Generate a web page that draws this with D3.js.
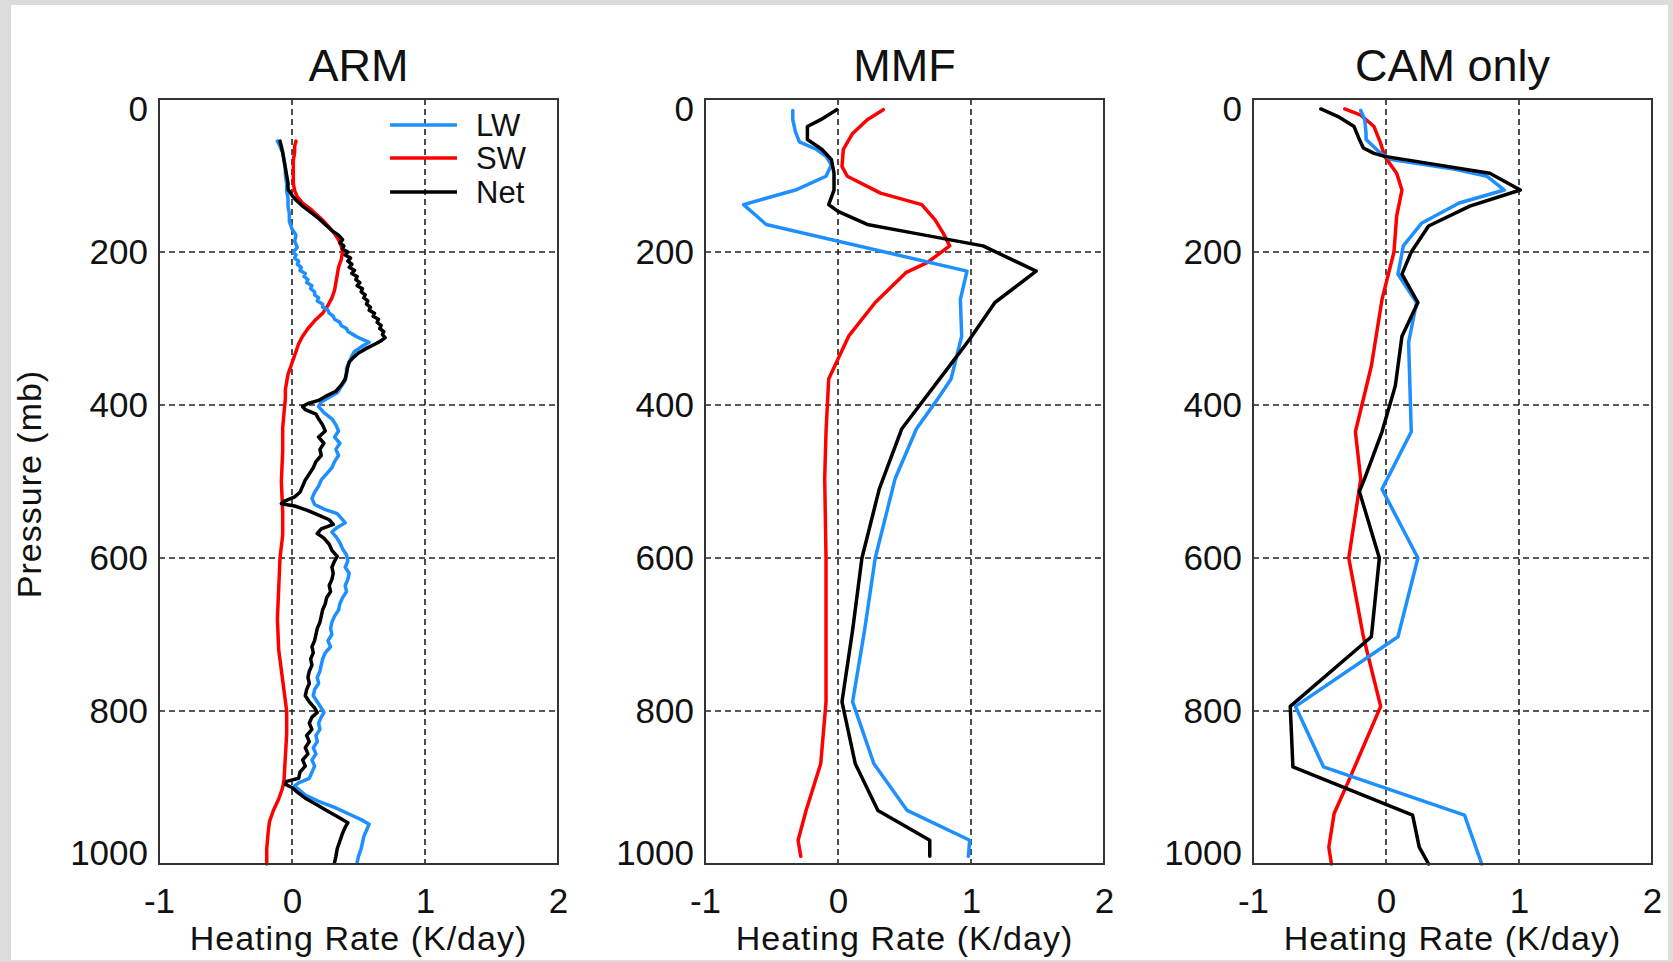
<!DOCTYPE html>
<html>
<head>
<meta charset="utf-8">
<script src="https://cdn.jsdelivr.net/npm/d3@7"></script>
<style>
  html, body { margin: 0; padding: 0; background: #dcdcdc; }
  svg { display: block; }
  text { font-family: "Liberation Sans", Arial, Helvetica, sans-serif; fill: #111; }
</style>
</head>
<body>
<svg id="chart" width="1673" height="962"></svg>
<script>
// ---------------- DATA ----------------
const panelTitles = ["ARM", "MMF", "CAM only"];
const seriesNames = ["LW", "SW", "Net"];
const xTickValues = [-1, 0, 1, 2];
const yTickValues = [0, 200, 400, 600, 800, 1000];
const xGridValues = [0, 1];
const yGridValues = [200, 400, 600, 800];

// ARM (observations)
const armLwP = [55,62,70,80,90,100,110,120,130,140,150,160,170,178,186,194,200,204,208,212,216,220,224,228,232,236,240,244,248,252,256,260,264,268,272,276,280,284,288,292,296,300,304,308,312,318,324,330,336,344,352,360,368,376,384,390,396,402,410,418,426,434,442,450,458,466,474,482,490,498,506,514,522,530,536,542,548,554,560,566,572,580,588,596,604,612,620,628,636,644,652,660,668,676,684,692,700,708,716,724,732,740,748,756,764,772,780,788,796,802,808,816,824,832,840,848,856,864,872,880,888,894,898,904,910,918,926,934,942,948,956,964,972,980,990,998];
const armLw  = [-0.11,-0.09,-0.07,-0.06,-0.05,-0.05,-0.04,-0.04,-0.03,-0.03,-0.02,-0.02,0.00,0.03,0.02,0.04,0.01,0.03,0.02,0.05,0.04,0.07,0.06,0.10,0.09,0.12,0.11,0.15,0.14,0.17,0.17,0.20,0.19,0.23,0.23,0.27,0.28,0.31,0.32,0.36,0.37,0.41,0.42,0.46,0.50,0.58,0.52,0.47,0.45,0.43,0.41,0.41,0.40,0.37,0.34,0.28,0.22,0.20,0.24,0.30,0.33,0.35,0.32,0.36,0.33,0.35,0.32,0.30,0.26,0.22,0.20,0.17,0.15,0.17,0.24,0.34,0.37,0.40,0.34,0.30,0.33,0.36,0.38,0.41,0.42,0.40,0.43,0.42,0.40,0.41,0.38,0.36,0.35,0.32,0.30,0.29,0.30,0.27,0.29,0.25,0.23,0.22,0.21,0.19,0.20,0.17,0.16,0.19,0.22,0.24,0.22,0.20,0.21,0.18,0.19,0.16,0.18,0.15,0.17,0.15,0.13,0.05,0.02,0.06,0.10,0.20,0.32,0.42,0.52,0.58,0.56,0.54,0.53,0.52,0.50,0.49];

const armSwP = [55,62,70,80,90,100,110,120,128,136,144,152,160,168,176,184,192,200,210,220,230,240,250,260,270,280,290,300,310,320,330,340,350,360,370,380,392,410,430,460,500,540,570,600,640,680,720,760,800,830,860,890,900,915,930,945,960,980,1000];
const armSw  = [0.03,0.02,0.02,0.01,0.01,0.01,0.01,0.02,0.04,0.08,0.14,0.19,0.24,0.28,0.32,0.35,0.37,0.38,0.37,0.35,0.34,0.33,0.32,0.30,0.27,0.23,0.17,0.12,0.08,0.05,0.03,0.01,-0.01,-0.03,-0.04,-0.05,-0.05,-0.06,-0.07,-0.07,-0.08,-0.07,-0.07,-0.09,-0.10,-0.11,-0.10,-0.07,-0.04,-0.04,-0.05,-0.06,-0.07,-0.10,-0.14,-0.17,-0.18,-0.19,-0.19];

const armNetP = [55,62,70,80,90,100,110,118,126,132,140,148,156,164,172,178,184,188,192,196,200,204,208,212,216,220,224,228,232,236,240,244,248,252,256,260,264,268,272,276,280,284,288,292,296,300,304,308,312,316,320,326,332,338,344,350,358,366,374,382,388,394,398,402,406,412,418,426,434,442,450,458,466,474,482,490,498,506,514,520,526,529,532,538,544,550,556,562,568,574,582,590,598,604,612,620,628,636,644,652,660,668,676,684,692,700,708,716,724,732,740,748,756,764,772,780,788,796,802,808,816,824,832,840,848,856,864,872,880,888,892,896,900,906,914,922,930,938,946,952,960,970,980,990,998];
const armNet  = [-0.09,-0.08,-0.07,-0.06,-0.05,-0.04,-0.03,-0.03,0.00,0.03,0.08,0.14,0.20,0.25,0.30,0.35,0.38,0.36,0.39,0.38,0.42,0.40,0.44,0.42,0.45,0.43,0.47,0.45,0.49,0.48,0.51,0.49,0.53,0.52,0.55,0.54,0.57,0.56,0.59,0.58,0.62,0.61,0.65,0.64,0.67,0.66,0.69,0.68,0.70,0.67,0.63,0.56,0.50,0.46,0.43,0.42,0.41,0.40,0.37,0.33,0.26,0.20,0.12,0.08,0.10,0.18,0.20,0.23,0.25,0.20,0.24,0.21,0.22,0.18,0.16,0.13,0.10,0.08,0.06,0.02,-0.06,-0.08,0.02,0.12,0.20,0.28,0.31,0.22,0.19,0.24,0.28,0.30,0.34,0.32,0.30,0.31,0.30,0.28,0.29,0.26,0.25,0.23,0.22,0.21,0.19,0.18,0.17,0.15,0.16,0.14,0.15,0.13,0.12,0.13,0.11,0.10,0.13,0.17,0.19,0.15,0.13,0.15,0.11,0.13,0.10,0.12,0.08,0.10,0.06,0.05,-0.04,-0.05,0.00,0.04,0.10,0.18,0.26,0.34,0.42,0.40,0.38,0.36,0.34,0.33,0.32];

// MMF
const mmfLwP = [15,27,43,56,66,75,86,101,119,138,164,225,262,310,366,392,431,496,600,694,788,869,930,969,990];
const mmfLw  = [-0.34,-0.34,-0.32,-0.29,-0.16,-0.09,-0.05,-0.09,-0.32,-0.71,-0.54,0.97,0.92,0.93,0.85,0.75,0.59,0.43,0.28,0.20,0.11,0.27,0.52,0.99,0.98];
const mmfSwP = [14,27,45,66,88,101,123,138,158,175,192,214,227,266,310,366,435,496,600,694,788,869,930,969,990];
const mmfSw  = [0.34,0.22,0.11,0.04,0.03,0.07,0.32,0.63,0.73,0.79,0.84,0.67,0.51,0.28,0.08,-0.07,-0.09,-0.10,-0.09,-0.09,-0.09,-0.13,-0.24,-0.30,-0.28];
const mmfNetP = [14,27,36,53,66,79,97,119,138,147,164,175,192,225,266,314,344,431,496,510,600,694,788,869,930,969,990];
const mmfNet  = [-0.01,-0.13,-0.23,-0.23,-0.12,-0.05,-0.03,-0.03,-0.07,0.00,0.22,0.56,1.09,1.49,1.18,0.99,0.86,0.48,0.34,0.31,0.18,0.11,0.03,0.13,0.30,0.69,0.69];

// CAM only
const camLwP = [15,27,45,53,71,79,92,101,119,136,162,192,229,266,318,435,510,600,703,794,873,936,1000];
const camLw  = [-0.19,-0.16,-0.15,-0.15,-0.04,0.04,0.52,0.76,0.89,0.55,0.27,0.13,0.09,0.23,0.17,0.19,-0.03,0.24,0.09,-0.68,-0.47,0.59,0.72];
const camSwP = [13,21,36,58,75,97,119,153,200,262,349,435,497,600,703,794,895,934,978,1000];
const camSw  = [-0.31,-0.19,-0.09,-0.04,-0.01,0.08,0.12,0.08,0.06,-0.03,-0.11,-0.23,-0.19,-0.28,-0.17,-0.04,-0.29,-0.39,-0.43,-0.41];
const camNetP = [13,23,36,53,64,71,75,97,119,140,166,200,229,266,310,375,435,496,513,600,703,794,873,936,978,1000];
const camNet  = [-0.49,-0.36,-0.24,-0.20,-0.17,-0.09,-0.01,0.78,1.01,0.63,0.32,0.19,0.12,0.24,0.12,0.07,-0.03,-0.16,-0.20,-0.05,-0.11,-0.72,-0.70,0.20,0.25,0.32];

// ---------------- LAYOUT ----------------
const colors = { LW: "#1e8fff", SW: "#ff0000", Net: "#000000" };
const panelLefts = [159, 705, 1253];
const panelWidth = 399;
const plotTop = 99, plotBottom = 864;

const zip = (ps, vs) => ps.map((p, i) => ({ p: p, v: vs[i] }));
const panelsData = [
  { LW: zip(armLwP, armLw), SW: zip(armSwP, armSw), Net: zip(armNetP, armNet) },
  { LW: zip(mmfLwP, mmfLw), SW: zip(mmfSwP, mmfSw), Net: zip(mmfNetP, mmfNet) },
  { LW: zip(camLwP, camLw), SW: zip(camSwP, camSw), Net: zip(camNetP, camNet) }
];

const svg = d3.select("#chart");
svg.append("rect").attr("x", 11).attr("y", 5).attr("width", 1657).attr("height", 955).attr("fill", "#ffffff");

const y = d3.scaleLinear().domain([0, 1000]).range([plotTop, plotBottom]);

panelTitles.forEach((title, i) => {
  const left = panelLefts[i];
  const x = d3.scaleLinear().domain([-1, 2]).range([left, left + panelWidth]);
  const g = svg.append("g");

  // grid lines
  g.selectAll(".vgrid").data(xGridValues).join("line")
    .attr("x1", d => x(d)).attr("x2", d => x(d))
    .attr("y1", plotTop).attr("y2", plotBottom)
    .attr("stroke", "#222").attr("stroke-width", 1.6).attr("stroke-dasharray", "6,4");
  g.selectAll(".hgrid").data(yGridValues).join("line")
    .attr("x1", x(-1)).attr("x2", x(2))
    .attr("y1", d => y(d)).attr("y2", d => y(d))
    .attr("stroke", "#222").attr("stroke-width", 1.6).attr("stroke-dasharray", "6,4");

  // data lines
  const line = d3.line().x(d => x(d.v)).y(d => y(d.p));
  ["SW", "LW", "Net"].forEach(name => {
    g.append("path").datum(panelsData[i][name])
      .attr("d", line)
      .attr("fill", "none")
      .attr("stroke", colors[name])
      .attr("stroke-width", 3.5)
      .attr("stroke-linejoin", "round")
      .attr("stroke-linecap", "round");
  });

  // frame
  g.append("rect")
    .attr("x", x(-1)).attr("y", plotTop)
    .attr("width", x(2) - x(-1)).attr("height", plotBottom - plotTop)
    .attr("fill", "none").attr("stroke", "#333").attr("stroke-width", 2);

  // axes
  const yAxis = d3.axisLeft(y).tickValues(yTickValues).tickSize(0).tickPadding(11).tickFormat(d3.format("d"));
  const ya = g.append("g").attr("transform", `translate(${x(-1)},0)`).call(yAxis);
  ya.select(".domain").remove();
  ya.selectAll("text").style("font-size", "35px").style("font-family", '"Liberation Sans", Arial, sans-serif').attr("fill", "#111")
    .attr("dy", d => d === 0 ? "0.62em" : (d === 1000 ? "0.02em" : "0.33em"));

  const xAxis = d3.axisBottom(x).tickValues(xTickValues).tickSize(0).tickPadding(24).tickFormat(d3.format("d"));
  const xa = g.append("g").attr("transform", `translate(0,${plotBottom})`).call(xAxis);
  xa.select(".domain").remove();
  xa.selectAll("text").style("font-size", "35px").style("font-family", '"Liberation Sans", Arial, sans-serif').attr("fill", "#111")
    .text(d => d < 0 ? "-" + Math.abs(d) : d);

  // titles
  g.append("text").attr("x", (x(-1) + x(2)) / 2).attr("y", 81)
    .attr("text-anchor", "middle").style("font-size", "45px").text(title);
  g.append("text").attr("x", (x(-1) + x(2)) / 2).attr("y", 950)
    .attr("text-anchor", "middle").style("font-size", "34px").style("letter-spacing", "1px")
    .text("Heating Rate (K/day)");

  if (i === 0) {
    g.append("text")
      .attr("transform", `translate(41,484) rotate(-90)`)
      .attr("text-anchor", "middle").style("font-size", "34px").style("letter-spacing", "1px")
      .text("Pressure (mb)");

    // legend
    const legendRows = [125, 158, 192];
    const lg = g.append("g");
    seriesNames.forEach((name, k) => {
      lg.append("line").attr("x1", 390).attr("x2", 457)
        .attr("y1", legendRows[k]).attr("y2", legendRows[k])
        .attr("stroke", colors[name]).attr("stroke-width", 3.5);
      lg.append("text").attr("x", 476).attr("y", legendRows[k] + 11)
        .style("font-size", "31px").text(name);
    });
  }
});
</script>
</body>
</html>
